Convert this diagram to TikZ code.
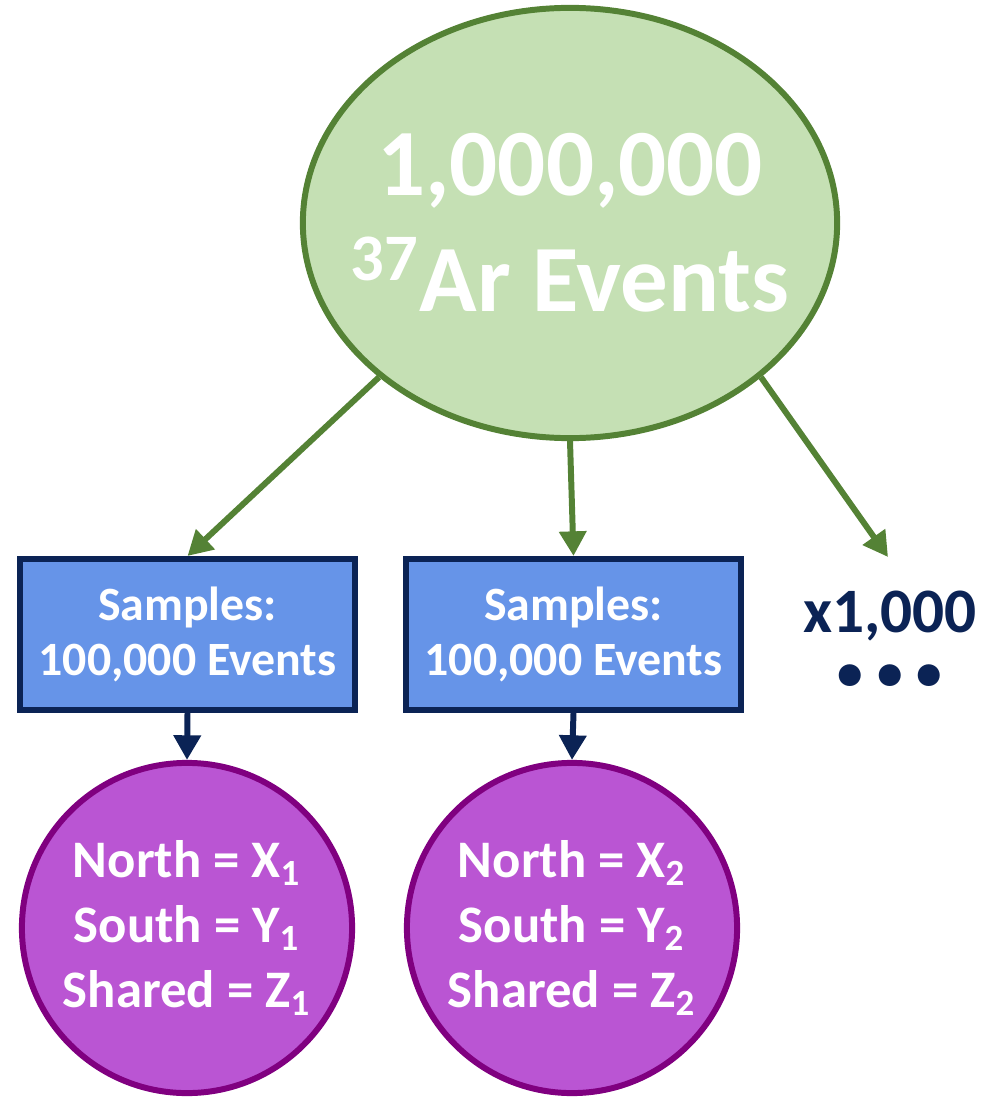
\documentclass[tikz,border=0pt]{standalone}
\usepackage{fontspec}
\setmainfont{Carlito}
\usetikzlibrary{shapes.geometric,arrows.meta}
\definecolor{evgreen}{HTML}{548235}
\definecolor{evfill}{HTML}{C5E0B4}
\definecolor{navy}{HTML}{0B2355}
\definecolor{boxblue}{HTML}{6694E8}
\definecolor{orchid}{HTML}{BA55D3}
\definecolor{plum}{HTML}{800080}
\tikzset{
  samplebox/.style={rectangle, draw=navy, fill=boxblue, line width=1.7pt, minimum width=3.35cm, minimum height=1.51cm, text=white, align=center, font=\fontsize{13.6}{15.6}\selectfont\bfseries},
  resultcirc/.style={circle, draw=plum, fill=orchid, line width=1.7pt, minimum size=3.30cm, inner sep=0pt, text=white, align=center, font=\fontsize{15}{18.5}\selectfont\bfseries},
  splitarrow/.style={-{Triangle[length=7pt,width=7.5pt]}, evgreen, line width=1.7pt},
  dataarrow/.style={-{Triangle[length=7pt,width=7.5pt]}, navy, line width=1.7pt}
}
\begin{document}
\begin{tikzpicture}[x=0.01cm, y=-0.01cm]
				\useasboundingbox (0,0) rectangle (992,1097);
				\node[ellipse, draw=evgreen, fill=evfill, line width=1.7pt, minimum width=5.34cm, minimum height=4.30cm,
				  label={[text=white, align=center, font=\fontsize{27}{32}\selectfont\bfseries]center:1,000,000\\[1pt]\textsuperscript{37}Ar Events}] (events) at (570,223) {};
				\node[samplebox] (sample1) at (187.5,634.5) {Samples:\\100,000 Events};
				\node[samplebox] (sample2) at (573.5,634.5) {Samples:\\100,000 Events};
				\node[resultcirc] (result1) at (187,928) {North = X\textsubscript{1}\\South = Y\textsubscript{1}\\Shared = Z\textsubscript{1}};
				\node[resultcirc] (result2) at (572,928) {North = X\textsubscript{2}\\South = Y\textsubscript{2}\\Shared = Z\textsubscript{2}};
				\node[navy, anchor=base, align=center, inner sep=1pt, font=\fontsize{18}{22}\selectfont\bfseries] (repeat) at (890,685) {x1,000\\[-7pt]{\fontsize{42}{42}\selectfont ...}};
				\coordinate (more) at (888,557);
				\draw[splitarrow] (events.south west) -- (sample1.north);
				\draw[splitarrow] (events.south) -- (sample2.north);
				\draw[splitarrow] (events.south east) -- (more);
				\draw[dataarrow] (sample1.south) -- (result1.north);
				\draw[dataarrow] (sample2.south) -- (result2.north);
			\end{tikzpicture}
\end{document}
